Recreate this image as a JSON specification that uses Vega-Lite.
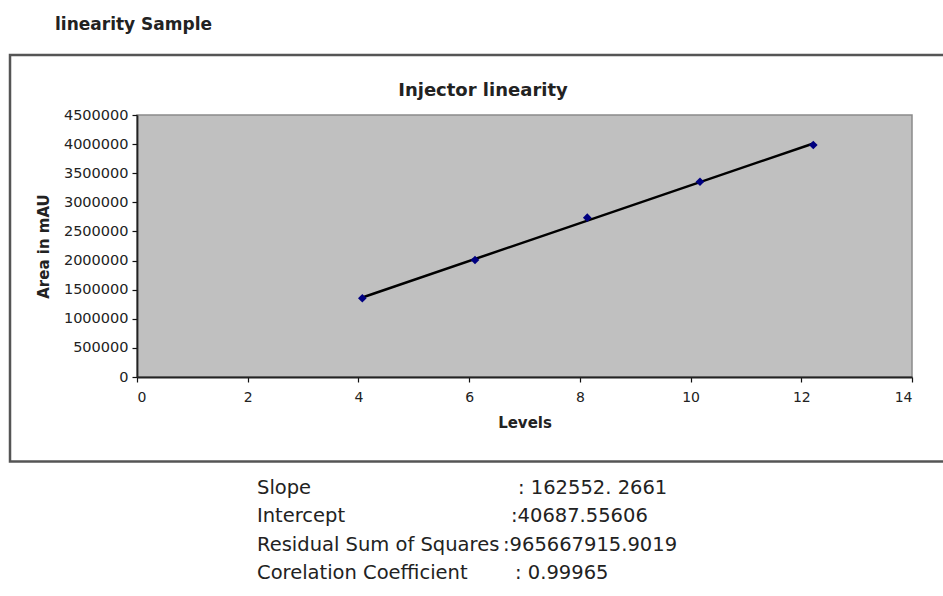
{
  "$schema": "https://vega.github.io/schema/vega-lite/v6.json",
  "width": 775,
  "height": 262,
  "autosize": {"type": "none"},
  "padding": {"left": 137, "top": 115, "right": 31, "bottom": 219},
  "background": "white",
  "config": {
    "view": {"fill": "#c0c0c0", "stroke": "#8a8a8a", "strokeWidth": 1.5},
    "text": {"font": "DejaVu Sans"},
    "axis": {"labelOverlap": false, "labelBound": false, "grid": false},
    "axisY": {"labelOverlap": false, "tickCount": 10},
    "axisX": {"tickCount": 8}
  },
  "datasets": {
    "levels": [
      {"level": 4.07, "area": 1352000},
      {"level": 6.106, "area": 2010000},
      {"level": 8.134, "area": 2736000},
      {"level": 10.17, "area": 3354000},
      {"level": 12.217, "area": 3985000}
    ],
    "stats": [
      {"label": "Slope", "value": ": 162552. 2661"},
      {"label": "Intercept", "value": ":40687.55606"},
      {"label": "Residual Sum of Squares", "value": ":965667915.9019"},
      {"label": "Corelation Coefficient", "value": ": 0.99965"}
    ]
  },
  "layer": [
    {
      "data": {"values": [{"box": "chart frame"}]},
      "mark": {"type": "rect", "fill": null, "stroke": "#555555", "strokeWidth": 2.5, "clip": false},
      "encoding": {
        "x": {"datum": -2.294, "type": "quantitative", "scale": {"domain": [0, 14], "nice": false}},
        "x2": {"datum": 14.7},
        "y": {"datum": 5530800, "type": "quantitative", "scale": {"domain": [0, 4500000], "nice": false}},
        "y2": {"datum": -1451400}
      }
    },
    {
      "data": {"name": "levels"},
      "transform": [{"regression": "area", "on": "level"}],
      "mark": {"type": "line", "color": "black", "strokeWidth": 2.5},
      "encoding": {
        "x": {
          "field": "level", "type": "quantitative",
          "scale": {"domain": [0, 14], "nice": false},
          "axis": {
            "values": [0, 2, 4, 6, 8, 10, 12, 14], "tickCount": 8, "format": "d", "grid": false, "labelOverlap": false,
            "labelFont": "DejaVu Sans", "labelFontSize": 14, "labelColor": "#222222", "labelPadding": 8,
            "tickSize": 5, "tickColor": "#111111", "tickWidth": 1.2,
            "domainColor": "#222222", "domainWidth": 1.8, "zindex": 1,
            "title": "Levels", "titleFont": "DejaVu Sans", "titleFontSize": 15, "titleFontWeight": "bold",
            "titleColor": "#222222", "titlePadding": 11
          }
        },
        "y": {
          "field": "area", "type": "quantitative",
          "scale": {"domain": [0, 4500000], "nice": false},
          "axis": {
            "values": [0, 500000, 1000000, 1500000, 2000000, 2500000, 3000000, 3500000, 4000000, 4500000],
            "tickCount": 10,
            "format": "d", "grid": false, "labelOverlap": false,
            "labelFont": "DejaVu Sans", "labelFontSize": 14.5, "labelColor": "#222222", "labelPadding": 4,
            "tickSize": 5, "tickColor": "#111111", "tickWidth": 1.2,
            "domainColor": "#222222", "domainWidth": 1.8, "zindex": 1,
            "title": "Area in mAU", "titleFont": "DejaVu Sans", "titleFontSize": 15, "titleFontWeight": "bold",
            "titleColor": "#222222", "titlePadding": 12
          }
        }
      }
    },
    {
      "data": {"name": "levels"},
      "mark": {"type": "point", "shape": "diamond", "filled": true, "color": "#000080", "size": 75, "opacity": 1},
      "encoding": {
        "x": {"field": "level", "type": "quantitative", "scale": {"domain": [0, 14], "nice": false},
              "axis": {"values": [0, 2, 4, 6, 8, 10, 12, 14], "tickCount": 8, "labelOverlap": false}},
        "y": {"field": "area", "type": "quantitative", "scale": {"domain": [0, 4500000], "nice": false},
              "axis": {"values": [0, 500000, 1000000, 1500000, 2000000, 2500000, 3000000, 3500000, 4000000, 4500000], "tickCount": 10, "labelOverlap": false}}
      }
    },
    {
      "data": {"values": [{"title": "linearity Sample"}]},
      "mark": {"type": "text", "align": "left", "baseline": "alphabetic", "fontSize": 17, "fontWeight": "bold", "color": "#222222"},
      "encoding": {
        "x": {"datum": -1.481, "type": "quantitative", "scale": {"domain": [0, 14], "nice": false}},
        "y": {"datum": 5960000, "type": "quantitative", "scale": {"domain": [0, 4500000], "nice": false}},
        "text": {"field": "title"}
      }
    },
    {
      "data": {"values": [{"title": "Injector linearity"}]},
      "mark": {"type": "text", "align": "center", "baseline": "alphabetic", "fontSize": 18, "fontWeight": "bold", "color": "#222222"},
      "encoding": {
        "x": {"datum": 6.25, "type": "quantitative", "scale": {"domain": [0, 14], "nice": false}},
        "y": {"datum": 4826000, "type": "quantitative", "scale": {"domain": [0, 4500000], "nice": false}},
        "text": {"field": "title"}
      }
    },
    {
      "data": {"name": "stats"},
      "transform": [{"filter": "datum.label === 'Slope'"}],
      "encoding": {
        "y": {"datum": -1906600, "type": "quantitative", "scale": {"domain": [0, 4500000], "nice": false}}
      },
      "layer": [
        {"mark": {"type": "text", "align": "left", "baseline": "middle", "fontSize": 19.5, "color": "#222222"},
         "encoding": {"x": {"datum": 2.168, "type": "quantitative", "scale": {"domain": [0, 14], "nice": false}}, "text": {"field": "label"}}},
        {"mark": {"type": "text", "align": "left", "baseline": "middle", "fontSize": 19.5, "color": "#222222"},
         "encoding": {"x": {"datum": 6.883, "type": "quantitative", "scale": {"domain": [0, 14], "nice": false}}, "text": {"field": "value"}}}
      ]
    },
    {
      "data": {"name": "stats"},
      "transform": [{"filter": "datum.label === 'Intercept'"}],
      "encoding": {
        "y": {"datum": -2387500, "type": "quantitative", "scale": {"domain": [0, 4500000], "nice": false}}
      },
      "layer": [
        {"mark": {"type": "text", "align": "left", "baseline": "middle", "fontSize": 19.5, "color": "#222222"},
         "encoding": {"x": {"datum": 2.168, "type": "quantitative", "scale": {"domain": [0, 14], "nice": false}}, "text": {"field": "label"}}},
        {"mark": {"type": "text", "align": "left", "baseline": "middle", "fontSize": 19.5, "color": "#222222"},
         "encoding": {"x": {"datum": 6.756, "type": "quantitative", "scale": {"domain": [0, 14], "nice": false}}, "text": {"field": "value"}}}
      ]
    },
    {
      "data": {"name": "stats"},
      "transform": [{"filter": "datum.label === 'Residual Sum of Squares'"}],
      "encoding": {
        "y": {"datum": -2885600, "type": "quantitative", "scale": {"domain": [0, 4500000], "nice": false}}
      },
      "layer": [
        {"mark": {"type": "text", "align": "left", "baseline": "middle", "fontSize": 19.5, "color": "#222222"},
         "encoding": {"x": {"datum": 2.168, "type": "quantitative", "scale": {"domain": [0, 14], "nice": false}}, "text": {"field": "label"}}},
        {"mark": {"type": "text", "align": "left", "baseline": "middle", "fontSize": 19.5, "color": "#222222"},
         "encoding": {"x": {"datum": 6.612, "type": "quantitative", "scale": {"domain": [0, 14], "nice": false}}, "text": {"field": "value"}}}
      ]
    },
    {
      "data": {"name": "stats"},
      "transform": [{"filter": "datum.label === 'Corelation Coefficient'"}],
      "encoding": {
        "y": {"datum": -3366500, "type": "quantitative", "scale": {"domain": [0, 4500000], "nice": false}}
      },
      "layer": [
        {"mark": {"type": "text", "align": "left", "baseline": "middle", "fontSize": 19.5, "color": "#222222"},
         "encoding": {"x": {"datum": 2.168, "type": "quantitative", "scale": {"domain": [0, 14], "nice": false}}, "text": {"field": "label"}}},
        {"mark": {"type": "text", "align": "left", "baseline": "middle", "fontSize": 19.5, "color": "#222222"},
         "encoding": {"x": {"datum": 6.829, "type": "quantitative", "scale": {"domain": [0, 14], "nice": false}}, "text": {"field": "value"}}}
      ]
    }
  ]
}
